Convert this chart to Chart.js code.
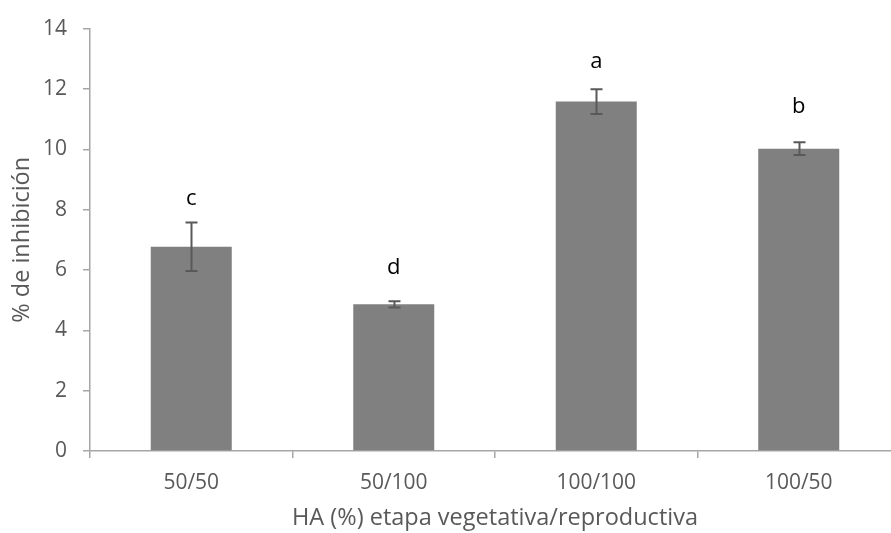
<!DOCTYPE html>
<html>
<head>
<meta charset="utf-8">
<script src="https://cdn.jsdelivr.net/npm/chart.js@4"></script>
<style>
  html, body { margin: 0; padding: 0; background: #fff; overflow: hidden; }
  #wrap { width: 900px; height: 533px; }
</style>
</head>
<body>
<div id="wrap"><canvas id="barChart"></canvas></div>
<script>
const categories = ['50/50', '50/100', '100/100', '100/50'];
const inhibition = [6.77, 4.86, 11.58, 10.02];
const errors = [0.8, 0.1, 0.41, 0.21];
const letters = ['c', 'd', 'a', 'b'];
const letterLevels = [8.15, 5.85, 12.68, 11.2];
const yTicks = [0, 2, 4, 6, 8, 10, 12, 14];

const axisGrey = '#a6a6a6';
const textGrey = '#595959';

// error bars and significance letters
const extras = {
	id: 'extras',
	afterDatasetsDraw(chart) {
		const ctx = chart.ctx;
		const y = chart.scales.y;
		const meta = chart.getDatasetMeta(0);
		ctx.save();
		meta.data.forEach(function (bar, i) {
			const x = Math.round(bar.x) + 0.5;
			const top = y.getPixelForValue(inhibition[i] + errors[i]);
			const bot = y.getPixelForValue(inhibition[i] - errors[i]);
			ctx.strokeStyle = '#595959';
			ctx.lineWidth = 2;
			ctx.beginPath();
			ctx.moveTo(x, top); ctx.lineTo(x, bot);
			ctx.moveTo(x - 6, top); ctx.lineTo(x + 6, top);
			ctx.moveTo(x - 6, bot); ctx.lineTo(x + 6, bot);
			ctx.stroke();

			ctx.fillStyle = '#000';
			ctx.font = '22px "Open Sans"';
			ctx.textAlign = 'center';
			ctx.textBaseline = 'alphabetic';
			ctx.fillText(letters[i], bar.x, y.getPixelForValue(letterLevels[i]));
		});
		ctx.restore();
	}
};

new Chart(document.getElementById('barChart').getContext('2d'), {
	type: 'bar',
	data: {
		labels: categories,
		datasets: [{
			data: inhibition,
			backgroundColor: '#808080',
			borderWidth: 0,
			categoryPercentage: 1,
			barPercentage: 0.4
		}]
	},
	options: {
		responsive: true,
		maintainAspectRatio: false,
		animation: false,
		layout: { padding: { top: 23, right: 0, left: 0, bottom: 0 } },
		plugins: {
			legend: { display: false },
			tooltip: { enabled: false }
		},
		scales: {
			x: {
				offset: true,
				grid: {
					offset: true,
					drawOnChartArea: false,
					color: axisGrey,
					tickLength: 7,
					lineWidth: 1.5
				},
				border: { color: axisGrey, width: 1.5 },
				ticks: {
					color: textGrey,
					font: { family: '"Open Sans"', size: 21 },
					padding: 12
				},
				title: {
					display: true,
					text: 'HA (%) etapa vegetativa/reproductiva',
					color: textGrey,
					font: { family: '"Open Sans"', size: 23.5 },
					padding: { top: 0, bottom: 1 }
				},
				afterFit(scale) { scale.height = 82; }
			},
			y: {
				min: 0,
				max: 14,
				afterBuildTicks(scale) { scale.ticks = yTicks.map(v => ({ value: v })); },
				grid: {
					drawOnChartArea: false,
					color: axisGrey,
					tickLength: 7,
					lineWidth: 1.5
				},
				border: { color: axisGrey, width: 1.5 },
				ticks: {
					color: textGrey,
					font: { family: '"Open Sans"', size: 21 },
					padding: 16
				},
				title: {
					display: true,
					text: '% de inhibición',
					color: textGrey,
					font: { family: '"Open Sans"', size: 23.5 },
					padding: { top: 8, bottom: 0 }
				},
				afterFit(scale) { scale.width = 90; }
			}
		}
	},
	plugins: [extras]
});
</script>
</body>
</html>
